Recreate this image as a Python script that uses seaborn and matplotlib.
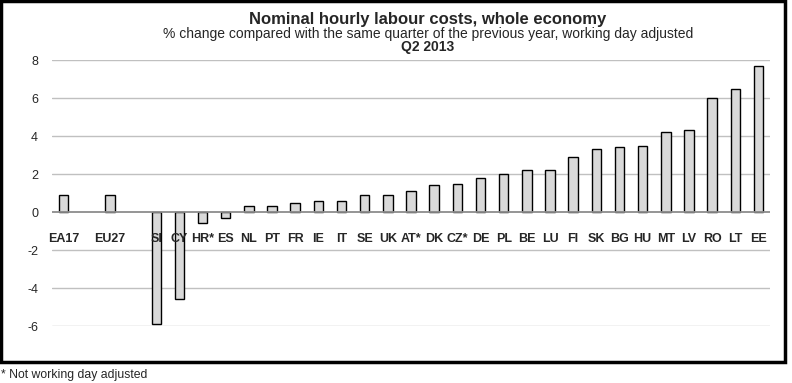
import matplotlib
matplotlib.use("Agg")
import matplotlib.pyplot as plt
import seaborn as sns
import pandas as pd
from matplotlib.patches import Rectangle

# Labour cost index, Q2 2013, % change on same quarter of previous year
countries = ["EA17", "EU27", "SI", "CY", "HR*", "ES", "NL", "PT", "FR", "IE", "IT",
             "SE", "UK", "AT*", "DK", "CZ*", "DE", "PL", "BE", "LU", "FI", "SK",
             "BG", "HU", "MT", "LV", "RO", "LT", "EE"]
changes = [0.9, 0.9, -5.9, -4.6, -0.6, -0.3, 0.3, 0.3, 0.5, 0.6, 0.6,
           0.9, 0.9, 1.1, 1.4, 1.5, 1.8, 2.0, 2.2, 2.2, 2.9, 3.3,
           3.4, 3.5, 4.2, 4.3, 6.0, 6.5, 7.7]
# empty slots after the aggregates
order = ["EA17", " ", "EU27", "  "] + countries[2:]
yticks = [-6, -4, -2, 0, 2, 4, 6, 8]

df = pd.DataFrame({"country": countries, "change": changes})

sns.set_style("white")
plt.rcParams["font.family"] = ["Liberation Sans", "DejaVu Sans"]
plt.rcParams["axes.unicode_minus"] = False

fig = plt.figure(figsize=(7.92, 3.83), dpi=100)
ax = fig.add_axes([0.0657, 0.1488, 0.9066, 0.6945])

for v in yticks:
    if v != 0:
        ax.axhline(v, color="#c0c0c0", lw=1, zorder=0)
ax.axhline(0, color="#8c8c8c", lw=1.3, zorder=3)

sns.barplot(data=df, x="country", y="change", order=order, color="#d9d9d9",
            saturation=1, width=0.41, edgecolor="black", linewidth=1,
            errorbar=None, ax=ax, zorder=2)

ax.set_ylim(-6, 8)
ax.set_xlim(-0.5, len(order) - 0.5)
ax.set_yticks(yticks)
ax.set_xlabel("")
ax.set_ylabel("")
for s in ax.spines.values():
    s.set_visible(False)
ax.spines["bottom"].set_position(("data", 0))
ax.xaxis.set_zorder(5)
ax.tick_params(axis="x", length=0, pad=15, labelsize=9)
ax.tick_params(axis="y", length=0, pad=10, labelsize=9)
for lab in ax.get_xticklabels():
    lab.set_fontweight("bold")

fig.text(0.54, 0.950, "Nominal hourly labour costs, whole economy",
         ha="center", va="center", fontsize=12, fontweight="bold")
fig.text(0.54, 0.912, "% change compared with the same quarter of the previous year, working day adjusted",
         ha="center", va="center", fontsize=10)
fig.text(0.54, 0.876, "Q2 2013", ha="center", va="center", fontsize=10, fontweight="bold")
fig.text(0.001, 0.022, "* Not working day adjusted", ha="left", va="center", fontsize=8.8)

fig.patches.append(Rectangle((0.0015, 1 - 361.5 / 383), 783.5 / 792, 361 / 383,
                             transform=fig.transFigure, fill=False,
                             edgecolor="black", linewidth=2.5))

fig.savefig("out.png", dpi=100)
